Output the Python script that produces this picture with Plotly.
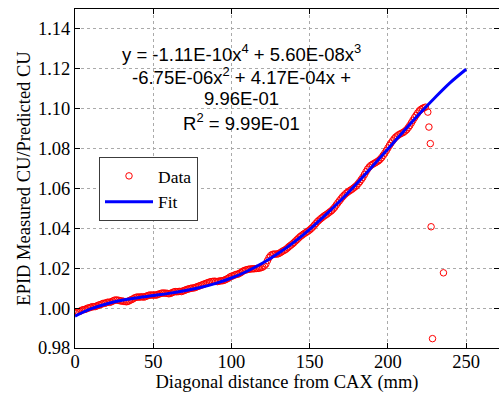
import plotly.graph_objects as go

data_x_even = list(range(0, 226, 2))
data_y_even = [
    0.9977, 0.9982, 0.9988, 0.9993, 1.0000, 1.0004, 1.0007, 1.0011, 1.0017, 1.0024,
    1.0027, 1.0029, 1.0035, 1.0041, 1.0039, 1.0036, 1.0033, 1.0034, 1.0042, 1.0051,
    1.0056, 1.0056, 1.0055, 1.0061, 1.0066, 1.0066, 1.0065, 1.0071, 1.0076, 1.0075,
    1.0072, 1.0077, 1.0083, 1.0083, 1.0083, 1.0089, 1.0095, 1.0099, 1.0101, 1.0107,
    1.0113, 1.0119, 1.0125, 1.0131, 1.0134, 1.0134, 1.0135, 1.0137, 1.0142, 1.0150,
    1.0160, 1.0166, 1.0170, 1.0178, 1.0188, 1.0193, 1.0196, 1.0197, 1.0199, 1.0201,
    1.0206, 1.0221, 1.0253, 1.0269, 1.0271, 1.0273, 1.0282, 1.0291, 1.0303, 1.0316,
    1.0329, 1.0344, 1.0359, 1.0371, 1.0381, 1.0392, 1.0407, 1.0425, 1.0441, 1.0454,
    1.0466, 1.0477, 1.0489, 1.0506, 1.0528, 1.0548, 1.0566, 1.0580, 1.0591, 1.0602,
    1.0615, 1.0634, 1.0656, 1.0684, 1.0707, 1.0720, 1.0729, 1.0739, 1.0755, 1.0777,
    1.0803, 1.0828, 1.0849, 1.0864, 1.0874, 1.0882, 1.0895, 1.0916, 1.0942, 1.0967,
    1.0989, 1.1001, 1.1008,
]
data_x_odd = list(range(1, 224, 2))
data_y_odd = [
    0.9981, 0.9984, 0.9992, 0.9995, 1.0001, 1.0007, 1.0008, 1.0015, 1.0020, 1.0024,
    1.0030, 1.0031, 1.0039, 1.0040, 1.0036, 1.0034, 1.0032, 1.0039, 1.0046, 1.0054,
    1.0055, 1.0057, 1.0058, 1.0064, 1.0065, 1.0066, 1.0069, 1.0074, 1.0075, 1.0074,
    1.0074, 1.0081, 1.0082, 1.0084, 1.0086, 1.0092, 1.0097, 1.0101, 1.0104, 1.0110,
    1.0116, 1.0122, 1.0128, 1.0133, 1.0135, 1.0133, 1.0137, 1.0139, 1.0146, 1.0156,
    1.0162, 1.0169, 1.0174, 1.0184, 1.0191, 1.0195, 1.0197, 1.0198, 1.0199, 1.0203,
    1.0212, 1.0238, 1.0263, 1.0271, 1.0271, 1.0277, 1.0287, 1.0296, 1.0310, 1.0322,
    1.0337, 1.0352, 1.0365, 1.0376, 1.0386, 1.0399, 1.0416, 1.0434, 1.0448, 1.0461,
    1.0471, 1.0483, 1.0497, 1.0517, 1.0538, 1.0558, 1.0574, 1.0586, 1.0596, 1.0608,
    1.0624, 1.0645, 1.0670, 1.0697, 1.0715, 1.0725, 1.0734, 1.0746, 1.0766, 1.0790,
    1.0816, 1.0839, 1.0858, 1.0870, 1.0878, 1.0888, 1.0905, 1.0929, 1.0955, 1.0978,
    1.0996, 1.1005,
]
outlier_x = [225.5, 226.2, 227.1, 227.6, 228.5, 235.5]
outlier_y = [1.0983, 1.0908, 1.0825, 1.0408, 0.9847, 1.0177]

# Fit curve
fit_x = [0, 10, 20, 30, 40, 50, 60, 70, 80, 90, 100, 110, 120, 130, 140, 150,
         160, 170, 180, 190, 200, 210, 220, 230, 240, 250]
fit_y = [0.9960, 0.9996, 1.0021, 1.0039, 1.0052, 1.0063, 1.0074, 1.0087, 1.0103,
         1.0124, 1.0151, 1.0185, 1.0226, 1.0275, 1.0331, 1.0395, 1.0466, 1.0542,
         1.0624, 1.0710, 1.0798, 1.0886, 1.0973, 1.1055, 1.1132, 1.1198]

x_ticks = [0, 50, 100, 150, 200, 250]
y_ticks = [0.98, 1.00, 1.02, 1.04, 1.06, 1.08, 1.10, 1.12, 1.14]

eq_lines = [
    "y = -1.11E-10x<sup>4</sup> + 5.60E-08x<sup>3</sup>",
    "-6.75E-06x<sup>2</sup> + 4.17E-04x +",
    "9.96E-01",
    "R<sup>2</sup> = 9.99E-01",
]

serif = "Liberation Serif, Times New Roman, serif"
sans = "Liberation Sans, Arial, sans-serif"

all_x = []
all_y = []
for xe, ye in zip(data_x_even, data_y_even):
    all_x.append(xe)
    all_y.append(ye)
for xo, yo in zip(data_x_odd, data_y_odd):
    all_x.append(xo)
    all_y.append(yo)
all_x += outlier_x
all_y += outlier_y

fig = go.Figure()
fig.add_trace(go.Scatter(
    x=all_x, y=all_y, mode="markers", name="Data",
    marker=dict(symbol="circle-open", size=6.5, color="rgb(255,0,0)",
                line=dict(width=1, color="rgb(255,0,0)")),
))
fig.add_trace(go.Scatter(
    x=fit_x, y=fit_y, mode="lines", name="Fit", line_shape="spline",
    line=dict(color="rgb(0,0,255)", width=3),
))

L, R, T, B = 75, 499, 9, 348
eq_y = [53, 76, 99, 122]
for txt, py in zip(eq_lines, eq_y):
    fig.add_annotation(text=txt, xref="paper", yref="paper",
                       x=(241 - L) / (R - L), y=1 - (py - T) / (B - T),
                       xanchor="center", yanchor="middle", showarrow=False,
                       font=dict(family=sans, size=18.5, color="black"))

axis_common = dict(
    showline=True, linecolor="black", linewidth=1, mirror="ticks",
    ticks="inside", ticklen=5, tickcolor="black",
    showgrid=True, gridcolor="rgb(170,170,170)", griddash="dot", gridwidth=1,
    zeroline=False, tickfont=dict(family=serif, size=18.5, color="black"),
    automargin=False,
)

fig.update_layout(
    width=499, height=394,
    margin=dict(l=L, r=0, t=T, b=394 - B),
    paper_bgcolor="white", plot_bgcolor="white",
    showlegend=True,
    legend=dict(x=(99 - L) / (R - L), y=1 - (157 - T) / (B - T),
                xanchor="left", yanchor="top", itemwidth=48,
                bgcolor="white", bordercolor="rgb(60,60,60)", borderwidth=1,
                font=dict(family=serif, size=17.5, color="black")),
    xaxis=dict(range=[0, 271], tickvals=x_ticks, ticktext=[str(v) for v in x_ticks],
               ticklabelstandoff=-3,
               title=dict(text="Diagonal distance from CAX (mm)", standoff=0,
                          font=dict(family=serif, size=18.5, color="black")),
               **axis_common),
    yaxis=dict(range=[0.98, 1.15], tickvals=y_ticks,
               ticktext=["%.2f" % v for v in y_ticks],
               title=dict(text="EPID Measured CU/Predicted CU", standoff=2,
                          font=dict(family=serif, size=18.5, color="black")),
               **axis_common),
)

fig.write_html(
    "out.html",
    config={"displayModeBar": False},
    post_script="document.body.style.margin='0';document.body.style.padding='0';",
)
